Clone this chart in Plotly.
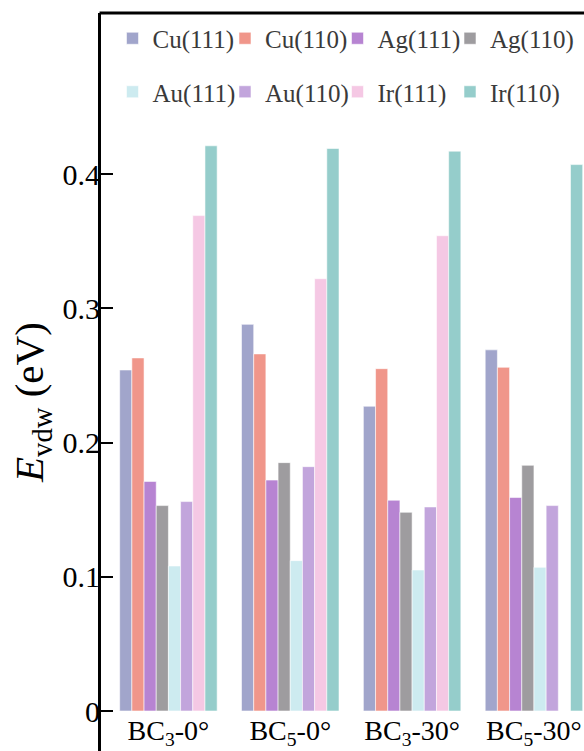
import plotly.graph_objects as go

categories = ["BC<sub>3</sub>-0°", "BC<sub>5</sub>-0°", "BC<sub>3</sub>-30°", "BC<sub>5</sub>-30°"]
series_names = ["Cu(111)", "Cu(110)", "Ag(111)", "Ag(110)",
                "Au(111)", "Au(110)", "Ir(111)", "Ir(110)"]
cu111 = [0.254, 0.288, 0.227, 0.269]
cu110 = [0.263, 0.266, 0.255, 0.256]
ag111 = [0.171, 0.172, 0.157, 0.159]
ag110 = [0.153, 0.185, 0.148, 0.183]
au111 = [0.108, 0.112, 0.105, 0.107]
au110 = [0.156, 0.182, 0.152, 0.153]
ir111 = [0.369, 0.322, 0.354, None]
ir110 = [0.421, 0.419, 0.417, 0.407]
series_values = [cu111, cu110, ag111, ag110, au111, au110, ir111, ir110]
colors = ["#A1A5CB", "#F0968A", "#B784D2", "#9E9C9F",
          "#CDEBF0", "#C2A5DC", "#F5C8E4", "#95CDCB"]
y_ticks = [0, 0.1, 0.2, 0.3, 0.4]

W, H = 584, 751
L, R, T, B = 101, 0, 13, 0
pw, ph = W - L - R, H - T - B

def px_x(x):
    return (x - L) / pw

def px_y(y):
    return (H - B - y) / ph

FONT = "Liberation Serif"
fig = go.Figure()
legend_layout = {}
for i, (name, vals, col) in enumerate(zip(series_names, series_values, colors)):
    key = "legend" if i == 0 else f"legend{i + 1}"
    fig.add_trace(go.Bar(
        x=list(range(len(categories))), y=vals, name=name,
        marker=dict(color=col, line=dict(color="rgba(255,255,255,0.7)", width=0.8)),
        legend=key,
    ))
    row, colidx = divmod(i, 4)
    legend_layout[key] = dict(
        x=px_x(112.5 + 112.5 * colidx), y=px_y(38.5 + 53.5 * row),
        xanchor="left", yanchor="middle",
        font=dict(family=FONT, size=25, color="#3a3a3a"),
        bgcolor="rgba(0,0,0,0)", borderwidth=0,
        itemclick=False, itemdoubleclick=False,
    )

y0_px = 711
unit = 1342.5
ymin = -(H - B - y0_px) / unit
ymax = (y0_px - T) / unit

fig.update_layout(
    width=W, height=H,
    margin=dict(l=L, r=R, t=T, b=B, pad=0),
    plot_bgcolor="white", paper_bgcolor="white",
    barmode="group", bargap=0.2, bargroupgap=0,
    font=dict(family=FONT, color="black"),
    showlegend=True,
    xaxis=dict(
        range=[-(168.5 - L) / 122, (W - 168.5) / 122 + 0.005],
        tickmode="array", tickvals=list(range(len(categories))), ticktext=categories,
        showgrid=False, zeroline=False, showline=False, ticks="",
        anchor="free", position=(H - B - y0_px) / ph, automargin=False,
        tickfont=dict(family=FONT, size=28, color="black"),
    ),
    yaxis=dict(
        range=[ymin, ymax], tickvals=y_ticks, ticktext=["0", "0.1", "0.2", "0.3", "0.4"],
        showgrid=False, zeroline=False, showline=True, linewidth=3, linecolor="black",
        ticks="inside", ticklen=12, tickwidth=2, tickcolor="black", automargin=False,
        ticklabelstandoff=-8,
        tickfont=dict(family=FONT, size=30, color="black"),
    ),
    shapes=[dict(type="line", xref="paper", yref="paper", x0=-0.003, x1=1.0, y0=1, y1=1,
                 line=dict(color="black", width=3))],
    annotations=[dict(
        text="<i>E</i><sub>vdw</sub> (eV)", xref="paper", yref="paper",
        x=px_x(32), y=px_y(403), xanchor="center", yanchor="middle",
        textangle=-90, showarrow=False,
        font=dict(family=FONT, size=41, color="black"),
    )],
    **legend_layout,
)

fig.write_html("out.html", config={"displayModeBar": False},
               post_script="document.body.style.margin='0';")
